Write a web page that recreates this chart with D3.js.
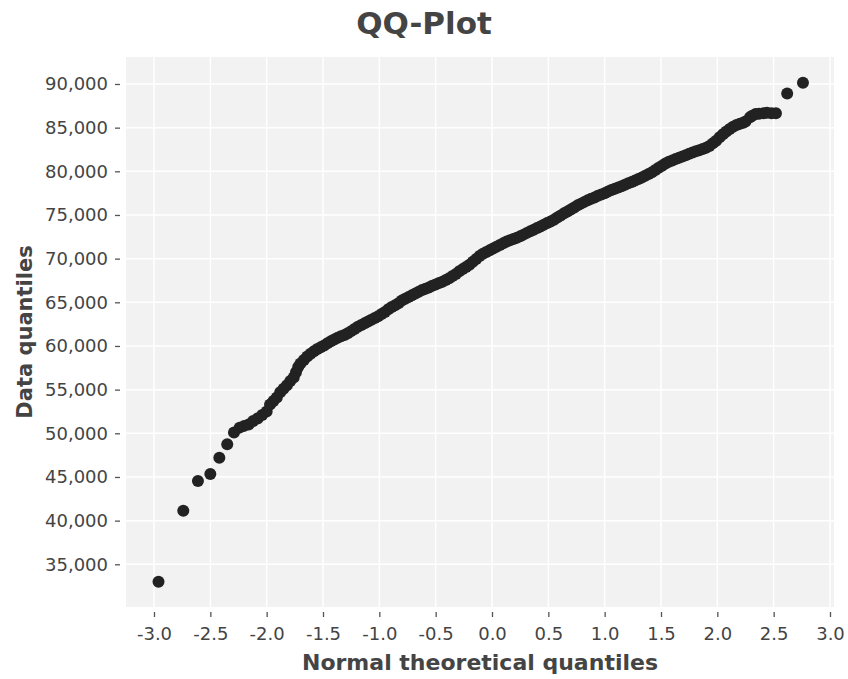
<!DOCTYPE html>
<html>
<head>
<meta charset="utf-8">
<script src="https://cdn.jsdelivr.net/npm/d3@7"></script>
<style>
  body { margin: 0; background: #fff; }
  text { font-family: "DejaVu Sans", Verdana, sans-serif; fill: #444; }
</style>
</head>
<body>
<div id="qqplot"></div>
<script>
// theoretical quantiles (x)
var theoQuantiles = [
  -2.96, -2.74, -2.61, -2.50, -2.42, -2.35, -2.29, -2.24, -2.20, -2.16,
  -2.12, -2.08, -2.04, -2.00, -1.97, -1.94, -1.91, -1.88, -1.85, -1.82,
  -1.79, -1.76, -1.74, -1.72, -1.70, -1.67, -1.64, -1.61, -1.58, -1.55,
  -1.52, -1.49, -1.46, -1.43, -1.40, -1.37, -1.34, -1.31, -1.28, -1.25,
  -1.22, -1.19, -1.16, -1.13, -1.10, -1.07, -1.04, -1.01, -0.98, -0.95,
  -0.92, -0.89, -0.86, -0.83, -0.80, -0.77, -0.74, -0.71, -0.68, -0.65,
  -0.62, -0.59, -0.56, -0.53, -0.50, -0.47, -0.44, -0.41, -0.38, -0.35,
  -0.32, -0.29, -0.26, -0.23, -0.20, -0.17, -0.14, -0.11, -0.08, -0.05,
  -0.02, 0.01, 0.04, 0.07, 0.10, 0.13, 0.16, 0.19, 0.22, 0.25,
  0.28, 0.31, 0.34, 0.37, 0.40, 0.43, 0.46, 0.49, 0.52, 0.55,
  0.58, 0.61, 0.64, 0.67, 0.70, 0.73, 0.76, 0.79, 0.82, 0.85,
  0.88, 0.91, 0.94, 0.97, 1.00, 1.03, 1.06, 1.09, 1.12, 1.15,
  1.18, 1.21, 1.24, 1.27, 1.30, 1.33, 1.36, 1.39, 1.42, 1.45,
  1.48, 1.51, 1.54, 1.57, 1.60, 1.63, 1.66, 1.69, 1.72, 1.75,
  1.78, 1.81, 1.84, 1.87, 1.90, 1.93, 1.96, 1.99, 2.02, 2.05,
  2.08, 2.11, 2.14, 2.17, 2.20, 2.23, 2.25, 2.29, 2.31, 2.34,
  2.37, 2.41, 2.44, 2.48, 2.52, 2.62, 2.76
]

// data quantiles (y), same order
var dataQuantiles = [
  33000, 41140, 44550, 45350, 47200, 48750, 50100, 50650, 50850, 51000,
  51400, 51700, 52100, 52500, 53300, 53700, 54100, 54700, 55100, 55500,
  56000, 56400, 57000, 57600, 58000, 58400, 58800, 59100, 59400, 59650,
  59850, 60050, 60300, 60550, 60750, 60950, 61100, 61250, 61450, 61700,
  61950, 62200, 62400, 62600, 62800, 63000, 63200, 63400, 63650, 63900,
  64200, 64450, 64650, 64900, 65200, 65400, 65600, 65800, 66000, 66200,
  66400, 66550, 66700, 66900, 67050, 67200, 67350, 67550, 67750, 68000,
  68250, 68550, 68800, 69050, 69300, 69650, 69950, 70300, 70550, 70750,
  70950, 71150, 71350, 71550, 71750, 71950, 72100, 72250, 72400, 72550,
  72750, 72950, 73150, 73300, 73500, 73680, 73880, 74070, 74250, 74450,
  74700, 74950, 75200, 75400, 75620, 75850, 76100, 76300, 76500, 76700,
  76850, 77000, 77200, 77350, 77500, 77680, 77850, 78000, 78150, 78300,
  78450, 78620, 78780, 78950, 79120, 79300, 79500, 79700, 79900, 80150,
  80400, 80650, 80900, 81100, 81250, 81400, 81550, 81700, 81850, 82000,
  82150, 82300, 82420, 82550, 82700, 82900, 83200, 83500, 83900, 84250,
  84550, 84850, 85100, 85300, 85450, 85550, 85700, 86200, 86350, 86550,
  86600, 86650, 86700, 86650, 86650, 88900, 90150
]

var xTicks = [-3, -2.5, -2, -1.5, -1, -0.5, 0, 0.5, 1, 1.5, 2, 2.5, 3]
var yTicks = [35000, 40000, 45000, 50000, 55000, 60000, 65000, 70000, 75000, 80000, 85000, 90000]

var width = 848
  height = 679
  margin = {top: 57, right: 14, bottom: 72, left: 126}

var innerW = width - margin.left - margin.right
var innerH = height - margin.top - margin.bottom

var svg = d3.select("#qqplot")
  .append("svg")
    .attr("width", width)
    .attr("height", height)

var g = svg.append("g")
    .attr("transform", "translate(" + margin.left + "," + margin.top + ")")

// scales (padded like the plotting lib's autorange)
var x = d3.scaleLinear()
  .domain([-3.2485, 3.0355])
  .range([0, innerW])

var y = d3.scaleLinear()
  .domain([30110, 93090])
  .range([innerH, 0])

// panel background
g.append("rect")
  .attr("width", innerW)
  .attr("height", innerH)
  .attr("fill", "#f2f2f2")

// grid lines
g.selectAll(".vgrid")
  .data(xTicks)
  .enter()
  .append("line")
    .attr("x1", function(d) { return x(d) })
    .attr("x2", function(d) { return x(d) })
    .attr("y1", 0)
    .attr("y2", innerH)
    .attr("stroke", "#fff")
    .attr("stroke-width", 1.5)

g.selectAll(".hgrid")
  .data(yTicks)
  .enter()
  .append("line")
    .attr("x1", 0)
    .attr("x2", innerW)
    .attr("y1", function(d) { return y(d) })
    .attr("y2", function(d) { return y(d) })
    .attr("stroke", "#fff")
    .attr("stroke-width", 1.5)

// plain hyphen for negatives, like the reference
var fmtX = function(d) { return d3.format(".1f")(d).replace("\u2212", "-") }

// axes: use d3 axes, then restyle
var xAxis = g.append("g")
  .attr("transform", "translate(0," + (innerH + 5) + ")")
  .call(d3.axisBottom(x).tickValues(xTicks).tickFormat(fmtX).tickSize(5).tickPadding(10))

var yAxis = g.append("g")
  .attr("transform", "translate(-6,0)")
  .call(d3.axisLeft(y).tickValues(yTicks).tickFormat(d3.format(",")).tickSize(5).tickPadding(7))

xAxis.select(".domain").remove()
yAxis.select(".domain").remove()
svg.selectAll(".tick line").attr("stroke", "#555").attr("stroke-width", 1.3)
svg.selectAll(".tick text")
  .style("font-size", "18px")
  .attr("fill", "#444")
  .style("font-family", "'DejaVu Sans', sans-serif")

// points
var points = theoQuantiles.map(function(d, i) { return {tq: d, dq: dataQuantiles[i]} })

g.selectAll(".pt")
  .data(points)
  .enter()
  .append("circle")
    .attr("cx", function(d) { return x(d.tq) })
    .attr("cy", function(d) { return y(d.dq) })
    .attr("r", 6)
    .attr("fill", "#222")

// titles
svg.append("text")
  .attr("x", width / 2)
  .attr("y", 34)
  .attr("text-anchor", "middle")
  .style("font-size", "31px")
  .style("font-weight", "bold")
  .text("QQ-Plot")

svg.append("text")
  .attr("x", margin.left + innerW / 2)
  .attr("y", 670)
  .attr("text-anchor", "middle")
  .style("font-size", "22px")
  .style("font-weight", "bold")
  .text("Normal theoretical quantiles")

svg.append("text")
  .attr("transform", "translate(32," + (margin.top + innerH / 2) + ") rotate(-90)")
  .attr("text-anchor", "middle")
  .style("font-size", "21px")
  .style("font-weight", "bold")
  .text("Data quantiles")
</script>
</body>
</html>
